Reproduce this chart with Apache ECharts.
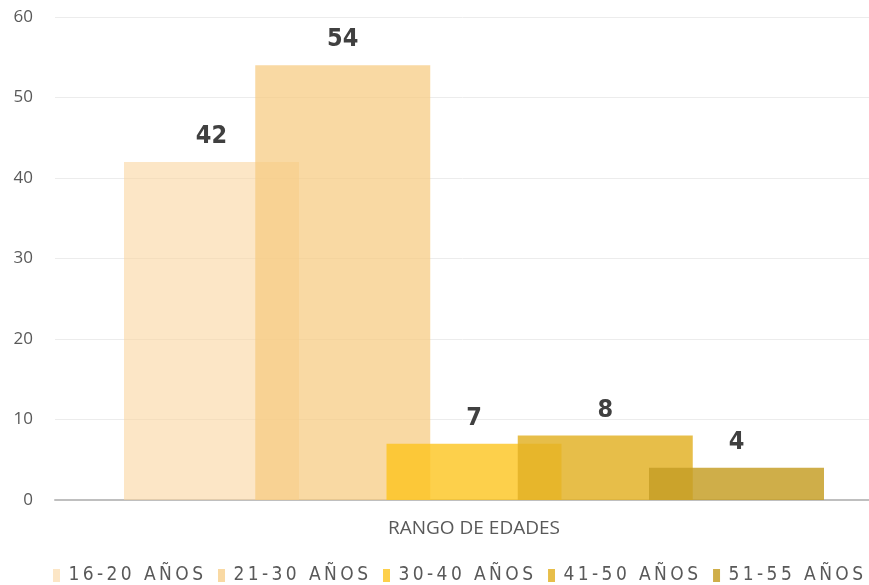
<!DOCTYPE html>
<html>
<head>
<meta charset="utf-8">
<script src="https://cdn.jsdelivr.net/npm/echarts@6/dist/echarts.min.js"></script>
<style>
    * {
        margin: 0;
        padding: 0;
    }
    #main {
        width: 869px;
        height: 585px;
        background: #fff;
    }
</style>
</head>
<body>
<div id="main"></div>
<script>
    // datos
    var categorias = ['RANGO DE EDADES'];
    var rangos = ['16-20 AÑOS', '21-30 AÑOS', '30-40 AÑOS', '41-50 AÑOS', '51-55 AÑOS'];
    var valores = [42, 54, 7, 8, 4];
    var yTicks = [0, 10, 20, 30, 40, 50, 60];

    var colores = [
        'rgba(250,214,160,0.6)',
        'rgba(247,203,128,0.72)',
        'rgba(252,196,30,0.8)',
        'rgba(226,178,38,0.84)',
        'rgba(198,158,38,0.84)'
    ];

    var chart = echarts.init(document.getElementById('main'));

    var series = [];
    for (var i = 0; i < rangos.length; i++) {
        series.push({
            name: rangos[i],
            type: 'bar',
            barWidth: 175,
            barGap: '-25%',
            itemStyle: { color: colores[i] },
            label: {
                show: true,
                position: 'top',
                distance: 13,
                color: '#404040',
                fontFamily: 'DejaVu Sans Condensed',
                fontWeight: 'bold',
                fontSize: 25
            },
            data: [valores[i]]
        });
    }

    chart.setOption({
        animation: false,
        color: colores,
        // el area del grafico sigue mas alla del borde derecho
        grid: {
            left: 55,
            top: 17,
            width: 838,
            height: 483,
            outerBoundsMode: 'none'
        },
        legend: {
            data: rangos,
            left: 48,
            top: 561,
            itemWidth: 7,
            itemHeight: 13,
            itemGap: 15,
            icon: 'rect',
            formatter: function (name) {
                return '\u2009' + name.split('').join('\u2009');
            },
            textStyle: {
                color: '#595959',
                fontFamily: 'DejaVu Sans Condensed',
                fontSize: 19
            }
        },
        xAxis: {
            type: 'category',
            data: categorias,
            axisLine: { lineStyle: { color: '#bfbfbf', width: 2 } },
            axisTick: { show: false },
            axisLabel: {
                margin: 19,
                color: '#595959',
                fontFamily: 'Open Sans',
                fontSize: 19
            }
        },
        yAxis: {
            type: 'value',
            min: yTicks[0],
            max: yTicks[yTicks.length - 1],
            interval: 10,
            axisLine: { show: false },
            axisTick: { show: false },
            axisLabel: {
                margin: 22,
                color: '#595959',
                fontFamily: 'Open Sans',
                fontSize: 17
            },
            splitLine: { lineStyle: { color: '#ececec', width: 1 } }
        },
        series: series
    });
</script>
</body>
</html>
